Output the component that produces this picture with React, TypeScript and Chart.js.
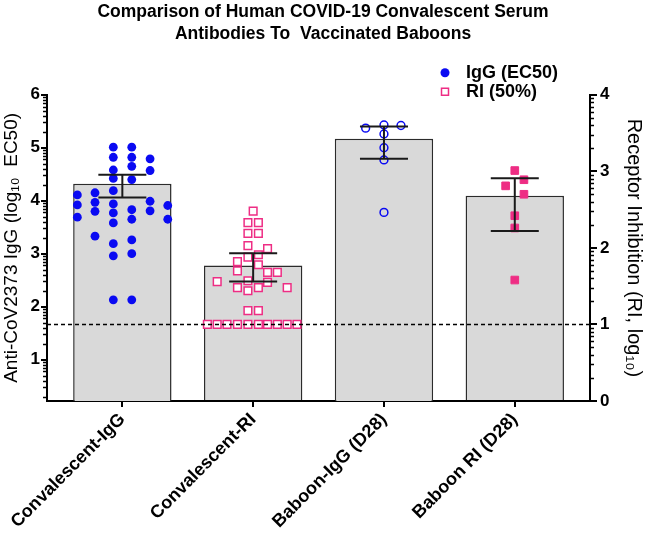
import React, { useEffect, useRef } from 'react';
import { Chart, registerables } from 'chart.js';

Chart.register(...registerables);

// ---------- data ----------
const TITLE_LINES = ['Comparison of Human COVID-19 Convalescent Serum', 'Antibodies To  Vaccinated Baboons'];
const CATEGORIES = ['Convalescent-IgG', 'Convalescent-RI', 'Baboon-IgG (D28)', 'Baboon RI (D28)'];
const CATEGORY_POS = [0, 1, 2, 3];
const LEFT_TICKS = [1, 2, 3, 4, 5, 6];
const RIGHT_TICKS = [0, 1, 2, 3, 4];
const LEGEND_LABELS = ['IgG (EC50)', 'RI (50%)'];
const LEFT_TITLE = 'Anti-CoV2373 IgG (log\u2081\u2080  EC50)';
const RIGHT_TITLE = 'Receptor Inhibition (RI, log\u2081\u2080)';

// bars on left axis (IgG) and right axis (RI)
const IGG_BAR_POS = [0, 2];
const IGG_BAR_VALUES = [4.32, 5.17];
const IGG_ERR_LOW = [4.06, 4.79];
const IGG_ERR_HIGH = [4.49, 5.4];
const RI_BAR_POS = [1, 3];
const RI_BAR_VALUES = [1.77, 2.68];
const RI_ERR_LOW = [1.56, 2.22];
const RI_ERR_HIGH = [1.93, 2.91];
const THRESHOLD_RI = 1;

// individual points: jitter (category units) and value
const CONV_IGG_JITTER = [
  -0.344, -0.344, -0.344,
  -0.209, -0.209, -0.209, -0.209,
  -0.069, -0.069, -0.069, -0.069, -0.069, -0.069, -0.069, -0.069, -0.069, -0.069, -0.069,
  0.072, 0.072, 0.072, 0.072, 0.072, 0.072, 0.072, 0.072, 0.072,
  0.212, 0.212, 0.212, 0.212,
  0.347, 0.347,
];
const CONV_IGG_VALUES = [
  4.11, 3.92, 3.69,
  4.15, 3.97, 3.8, 3.33,
  5.01, 4.82, 4.58, 4.42, 4.19, 3.94, 3.77, 3.58, 3.19, 2.96, 2.13,
  5.01, 4.82, 4.65, 4.4, 3.83, 3.65, 3.26, 3.0, 2.13,
  4.79, 4.57, 3.99, 3.81,
  3.91, 3.65,
];
const CONV_RI_JITTER = [
  0, -0.04, 0.04, -0.04, 0.04, -0.04, 0.11, 0.04, -0.04, -0.12, 0.04, -0.12, 0.11, 0.185,
  -0.04, 0.11, -0.275, -0.12, 0.04, 0.26, -0.04, -0.04, 0.04,
  -0.35, -0.275, -0.2, -0.12, -0.04, 0.04, 0.11, 0.185, 0.26, 0.335,
];
const CONV_RI_VALUES = [
  2.48, 2.33, 2.33, 2.19, 2.19, 2.03, 1.99, 1.91, 1.88, 1.82, 1.78, 1.7, 1.68, 1.68,
  1.57, 1.55, 1.56, 1.48, 1.48, 1.48, 1.44, 1.18, 1.18,
  1.0, 1.0, 1.0, 1.0, 1.0, 1.0, 1.0, 1.0, 1.0, 1.0,
];
const BABOON_IGG_JITTER = [-0.14, 0, 0.13, 0, 0, 0, 0];
const BABOON_IGG_VALUES = [5.37, 5.43, 5.42, 5.26, 5.0, 4.77, 3.78];
const BABOON_RI_JITTER = [0, 0.07, -0.07, 0.07, 0, 0, 0];
const BABOON_RI_VALUES = [3.01, 2.89, 2.81, 2.7, 2.42, 2.26, 1.58];

// ---------- styles ----------
const FONT = "'Liberation Sans', Arial, Helvetica, sans-serif";
const BLUE = '#0a0af2';
const PINK = '#ee2d84';
const BAR_FILL = '#d9d9d9';
const BAR_EDGE = '#2b2b2b';

const toPoints = (center: number, jitter: number[], values: number[]) =>
  values.map((v, i) => ({ x: center + jitter[i], y: v }));

const logMinor = (min: number, max: number) => {
  const out: number[] = [];
  for (let n = Math.floor(min); n < Math.ceil(max); n++) {
    for (let k = 2; k <= 9; k++) {
      const v = n + Math.log10(k);
      if (v >= min && v <= max) out.push(v);
    }
  }
  return out;
};

const overlayPlugin = {
  id: 'overlay',
  afterDatasetsDraw(chart: any) {
    const { ctx, chartArea, scales } = chart;
    const xs = scales.x;
    ctx.save();
    ctx.strokeStyle = '#1a1a1a';
    ctx.lineWidth = 2;
    const cap = 24;
    const drawErr = (pos: number, lo: number, hi: number, ys: any) => {
      const px = xs.getPixelForValue(pos);
      const y1 = ys.getPixelForValue(lo);
      const y2 = ys.getPixelForValue(hi);
      ctx.beginPath();
      ctx.moveTo(px, y1);
      ctx.lineTo(px, y2);
      ctx.moveTo(px - cap, y1);
      ctx.lineTo(px + cap, y1);
      ctx.moveTo(px - cap, y2);
      ctx.lineTo(px + cap, y2);
      ctx.stroke();
    };
    IGG_BAR_POS.forEach((p, i) => drawErr(p, IGG_ERR_LOW[i], IGG_ERR_HIGH[i], scales.y));
    RI_BAR_POS.forEach((p, i) => drawErr(p, RI_ERR_LOW[i], RI_ERR_HIGH[i], scales.y1));
    // threshold line
    const ty = scales.y1.getPixelForValue(THRESHOLD_RI);
    ctx.setLineDash([4, 3]);
    ctx.lineWidth = 1.5;
    ctx.strokeStyle = '#000';
    ctx.beginPath();
    ctx.moveTo(chartArea.left, ty);
    ctx.lineTo(chartArea.right, ty);
    ctx.stroke();
    ctx.restore();
  },
  afterDraw(chart: any) {
    const { ctx, chartArea, scales } = chart;
    ctx.save();
    ctx.strokeStyle = '#000';
    ctx.lineWidth = 1.5;
    // minor ticks
    const yl = scales.y;
    logMinor(yl.min, yl.max).forEach((v) => {
      const py = Math.round(yl.getPixelForValue(v)) + 0.5;
      ctx.beginPath();
      ctx.moveTo(chartArea.left - 4, py);
      ctx.lineTo(chartArea.left, py);
      ctx.stroke();
    });
    const yr = scales.y1;
    logMinor(yr.min, yr.max).forEach((v) => {
      const py = Math.round(yr.getPixelForValue(v)) + 0.5;
      ctx.beginPath();
      ctx.moveTo(chartArea.right, py);
      ctx.lineTo(chartArea.right + 4, py);
      ctx.stroke();
    });
    // legend
    const lx = chartArea.right - 145;
    const ly = [chartArea.top - 22, chartArea.top - 3];
    ctx.fillStyle = BLUE;
    ctx.beginPath();
    ctx.arc(lx, ly[0], 4.5, 0, Math.PI * 2);
    ctx.fill();
    ctx.fillStyle = '#fff';
    ctx.strokeStyle = PINK;
    ctx.lineWidth = 1.5;
    ctx.fillRect(lx - 3.5, ly[1] - 3.5, 7, 7);
    ctx.strokeRect(lx - 3.5, ly[1] - 3.5, 7, 7);
    ctx.fillStyle = '#000';
    ctx.font = `bold 18px ${FONT}`;
    ctx.textBaseline = 'middle';
    ctx.textAlign = 'left';
    LEGEND_LABELS.forEach((t, i) => ctx.fillText(t, lx + 21, ly[i]));
    ctx.restore();
  },
};

export default function App() {
  const ref = useRef<HTMLCanvasElement>(null);
  useEffect(() => {
    if (!ref.current) return;
    const chart = new Chart(ref.current, {
      type: 'bar',
      data: {
        datasets: [
          {
            type: 'scatter',
            data: toPoints(0, CONV_IGG_JITTER, CONV_IGG_VALUES),
            yAxisID: 'y',
            pointStyle: 'circle',
            pointRadius: 4.4,
            backgroundColor: BLUE,
            borderColor: BLUE,
            borderWidth: 0,
            order: 0,
          },
          {
            type: 'scatter',
            data: toPoints(1, CONV_RI_JITTER, CONV_RI_VALUES),
            yAxisID: 'y1',
            pointStyle: 'rect',
            pointRadius: 5.4,
            backgroundColor: '#ffffff',
            borderColor: PINK,
            borderWidth: 1.5,
            order: 0,
          },
          {
            type: 'scatter',
            data: toPoints(2, BABOON_IGG_JITTER, BABOON_IGG_VALUES),
            yAxisID: 'y',
            pointStyle: 'circle',
            pointRadius: 3.9,
            backgroundColor: 'rgba(0,0,0,0)',
            borderColor: BLUE,
            borderWidth: 1.5,
            order: 0,
          },
          {
            type: 'scatter',
            data: toPoints(3, BABOON_RI_JITTER, BABOON_RI_VALUES),
            yAxisID: 'y1',
            pointStyle: 'rect',
            pointRadius: 5.4,
            backgroundColor: PINK,
            borderColor: PINK,
            borderWidth: 1,
            order: 0,
          },
          {
            type: 'bar',
            data: IGG_BAR_POS.map((p, i) => ({ x: p, y: IGG_BAR_VALUES[i] })),
            yAxisID: 'y',
            backgroundColor: BAR_FILL,
            borderColor: BAR_EDGE,
            borderWidth: 1.5,
            grouped: false,
            barPercentage: 0.752,
            categoryPercentage: 1,
            order: 1,
          },
          {
            type: 'bar',
            data: RI_BAR_POS.map((p, i) => ({ x: p, y: RI_BAR_VALUES[i] })),
            yAxisID: 'y1',
            backgroundColor: BAR_FILL,
            borderColor: BAR_EDGE,
            borderWidth: 1.5,
            grouped: false,
            barPercentage: 0.752,
            categoryPercentage: 1,
            order: 1,
          },
        ] as any,
      },
      options: {
        responsive: false,
        animation: false,
        events: [],
        layout: { padding: 0 },
        plugins: {
          legend: { display: false },
          tooltip: { enabled: false },
          title: {
            display: true,
            text: TITLE_LINES,
            color: '#000',
            font: { family: FONT, size: 17.5, weight: 'bold', lineHeight: 1.25 },
            padding: { top: 1, bottom: 50 },
          },
        },
        scales: {
          x: {
            type: 'linear',
            offset: false,
            min: -0.576,
            max: 3.575,
            afterBuildTicks: (s: any) => {
              s.ticks = CATEGORY_POS.map((v) => ({ value: v }));
            },
            afterFit: (s: any) => {
              s.height = 132;
            },
            ticks: {
              autoSkip: false,
              maxRotation: 45,
              minRotation: 45,
              padding: 2,
              color: '#000',
              font: { family: FONT, size: 18, weight: 'bold' },
              callback: (v: any) => CATEGORIES[CATEGORY_POS.indexOf(Number(v))] ?? '',
            },
            grid: { display: true, offset: false, drawOnChartArea: false, drawTicks: true, tickLength: 6, color: '#000', lineWidth: 2 },
            border: { display: true, color: '#000', width: 2 },
          },
          y: {
            type: 'linear',
            position: 'left',
            min: 0.22,
            max: 6,
            afterBuildTicks: (s: any) => {
              s.ticks = LEFT_TICKS.map((v) => ({ value: v }));
            },
            afterFit: (s: any) => {
              s.width = 47;
            },
            ticks: {
              padding: 1,
              color: '#000',
              font: { family: FONT, size: 17, weight: 'bold' },
            },
            title: {
              display: true,
              text: LEFT_TITLE,
              color: '#000',
              font: { family: FONT, size: 19, weight: 'normal' },
              padding: { top: 0, bottom: 0 },
            },
            grid: { display: true, drawOnChartArea: false, drawTicks: true, tickLength: 6, color: '#000', lineWidth: 2 },
            border: { display: true, color: '#000', width: 2 },
          },
          y1: {
            type: 'linear',
            position: 'right',
            min: 0,
            max: 4,
            afterBuildTicks: (s: any) => {
              s.ticks = RIGHT_TICKS.map((v) => ({ value: v }));
            },
            afterFit: (s: any) => {
              s.width = 56;
            },
            ticks: {
              padding: 3,
              color: '#000',
              font: { family: FONT, size: 17, weight: 'bold' },
            },
            title: {
              display: true,
              text: RIGHT_TITLE,
              color: '#000',
              font: { family: FONT, size: 20, weight: 'normal' },
              padding: { top: 0, bottom: 0 },
            },
            grid: { display: true, drawOnChartArea: false, drawTicks: true, tickLength: 7, color: '#000', lineWidth: 2 },
            border: { display: true, color: '#000', width: 2 },
          },
        },
      } as any,
      plugins: [overlayPlugin],
    });
    return () => chart.destroy();
  }, []);

  return (
    <div style={{ position: 'absolute', left: 0, top: 0, width: 646, height: 533, background: '#fff' }}>
      <canvas ref={ref} width={646} height={533} />
    </div>
  );
}
